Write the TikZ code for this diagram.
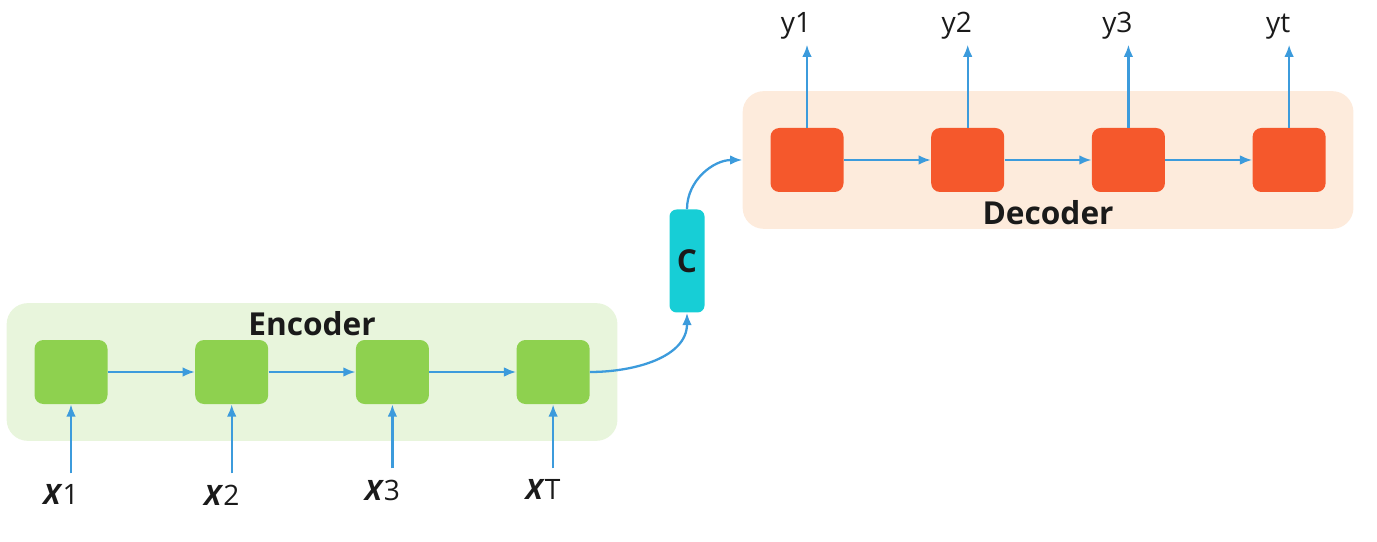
\documentclass[tikz,border=0pt]{standalone}
\usepackage{fontspec}
\setmainfont{Open Sans}
\usepackage{xcolor}
\usepackage{tikz}
\usetikzlibrary{backgrounds}
\usetikzlibrary{fit}
\usetikzlibrary{shapes,arrows,arrows.meta}
\usetikzlibrary{positioning}
\definecolor{encgreen}{RGB}{142,209,79}
\definecolor{encback}{RGB}{232,245,220}
\definecolor{decorange}{RGB}{245,88,44}
\definecolor{decback}{RGB}{253,235,220}
\definecolor{ccyan}{RGB}{23,206,214}
\definecolor{arrowblue}{RGB}{60,155,220}
\definecolor{inkblack}{RGB}{26,26,26}
\tikzstyle{enccell} = [rectangle, fill=encgreen, rounded corners=5pt,
    minimum width=1.46cm, minimum height=1.28cm, inner sep=0pt]
\tikzstyle{deccell} = [enccell, fill=decorange]
\tikzstyle{ccell} = [rectangle, fill=ccyan, rounded corners=4pt, text=inkblack,
    minimum width=0.7cm, minimum height=2.06cm, inner sep=0pt,
    font=\fontsize{18}{20}\selectfont\bfseries]
\tikzstyle{groupbox} = [rectangle, rounded corners=12pt, inner xsep=0.55cm, inner ysep=0.73cm]
\tikzstyle{grouptitle} = [font=\fontsize{18}{20}\selectfont\bfseries, text=inkblack]
\tikzstyle{inlabel} = [font=\fontsize{16}{18}\selectfont, text=inkblack, inner sep=0.22cm]
\tikzstyle{outlabel} = [font=\fontsize{16}{18}\selectfont, text=inkblack, inner sep=0.1cm]
\tikzstyle{line} = [draw, -{Latex[length=7pt,width=5.5pt]}, line width=1.3pt, arrowblue]

\begin{document}
\begin{tikzpicture}[node distance=1.74cm]
    \useasboundingbox (0,0) rectangle (27.54,10.82);
    % Place nodes
    \node [enccell] (e1) at (1.42,3.38) {};
    \node [enccell, right=of e1] (e2) {};
    \node [enccell, right=of e2] (e3) {};
    \node [enccell, right=of e3] (e4) {};
    \node [ccell] (c) at (13.74,5.6) {C};
    \node [deccell] (d1) at (16.14,7.62) {};
    \node [deccell, right=of d1] (d2) {};
    \node [deccell, right=of d2] (d3) {};
    \node [deccell, right=of d3] (d4) {};
    \node [inlabel, below=1.38cm of e1, xshift=-0.2cm] (x1) {\textbf{\textit{X}}1};
    \node [inlabel, below=1.38cm of e2, xshift=-0.2cm] (x2) {\textbf{\textit{X}}2};
    \node [inlabel, below=1.28cm of e3, xshift=-0.2cm] (x3) {\textbf{\textit{X}}3};
    \node [inlabel, below=1.28cm of e4, xshift=-0.2cm] (xT) {\textbf{\textit{X}}T};
    \node [outlabel, above=1.66cm of d1, xshift=-0.22cm] (y1) {y1};
    \node [outlabel, above=1.66cm of d2, xshift=-0.22cm] (y2) {y2};
    \node [outlabel, above=1.66cm of d3, xshift=-0.22cm] (y3) {y3};
    \node [outlabel, above=1.66cm of d4, xshift=-0.22cm] (yt) {yt};
    \begin{scope}[on background layer]
        \node [groupbox, fill=encback, fit=(e1) (e4)] (encbg) {};
        \node [groupbox, fill=decback, fit=(d1) (d4)] (decbg) {};
    \end{scope}
    \node [grouptitle] (enctitle) at ([yshift=-0.42cm]encbg.north) {Encoder};
    \node [grouptitle] (dectitle) at ([yshift=0.33cm]decbg.south) {Decoder};
    \coordinate (dentry) at (decbg.west |- d1.west);
    % Draw edges
    \path [line] (e1) -- (e2);
    \path [line] (e2) -- (e3);
    \path [line] (e3) -- (e4);
    \path [line] (d1) -- (d2);
    \path [line] (d2) -- (d3);
    \path [line] (d3) -- (d4);
    \path [line] (x1.north -| e1) -- (e1);
    \path [line] (x2.north -| e2) -- (e2);
    \path [line] (x3.north -| e3) -- (e3);
    \path [line] (xT.north -| e4) -- (e4);
    \path [line] (d1) -- (y1.south -| d1);
    \path [line] (d2) -- (y2.south -| d2);
    \path [line] (d3) -- (y3.south -| d3);
    \path [line] (d4) -- (yt.south -| d4);
    \path [line] (e4) to[out=0,in=-90] (c);
    \path [line] (c) to[out=90,in=180] (dentry);
\end{tikzpicture}
\end{document}
